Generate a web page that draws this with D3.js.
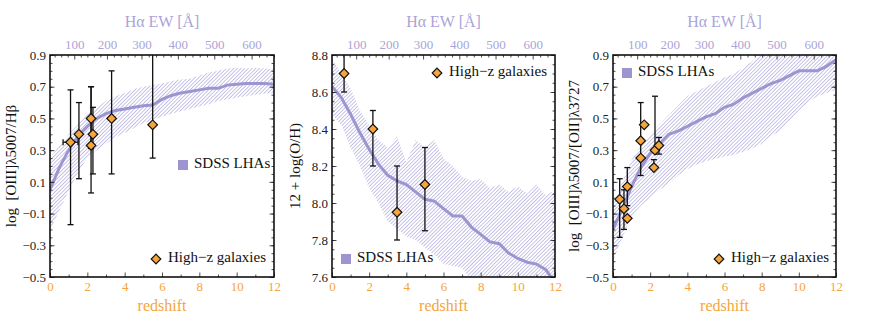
<!DOCTYPE html>
<html>
<head>
<meta charset="utf-8">
<script src="https://cdn.jsdelivr.net/npm/d3@7"></script>
<style>
  body { margin: 0; background: #fff; }
  text { font-family: "Liberation Serif", "DejaVu Serif", serif; }
</style>
</head>
<body>
<div id="graph"></div>
<script>
// ---- data ----
var zGrid = [0, 0.5, 1, 1.5, 2, 2.5, 3, 3.5, 4, 4.5, 5, 5.5, 6, 6.5, 7, 7.5, 8, 8.5, 9, 9.5, 10, 10.5, 11, 11.5, 12];

// SDSS LHAs: median and band, [OIII]/Hb
var o3hbMed  = [0.05, 0.19, 0.30, 0.39, 0.45, 0.50, 0.53, 0.55, 0.56, 0.57, 0.58, 0.585, 0.62, 0.645, 0.66, 0.67, 0.68, 0.69, 0.69, 0.71, 0.715, 0.72, 0.72, 0.72, 0.715];
var o3hbLow  = [-0.21, -0.08, 0.04, 0.16, 0.25, 0.30, 0.34, 0.38, 0.41, 0.44, 0.47, 0.49, 0.51, 0.53, 0.545, 0.56, 0.575, 0.59, 0.61, 0.62, 0.63, 0.64, 0.65, 0.655, 0.66];
var o3hbHigh = [0.25, 0.33, 0.40, 0.46, 0.53, 0.57, 0.61, 0.64, 0.66, 0.685, 0.70, 0.71, 0.72, 0.735, 0.745, 0.75, 0.77, 0.79, 0.80, 0.815, 0.82, 0.815, 0.82, 0.815, 0.81];

// 12+log(O/H)
var ohMed  = [8.63, 8.57, 8.48, 8.38, 8.29, 8.21, 8.15, 8.12, 8.10, 8.06, 8.02, 8.01, 7.97, 7.93, 7.93, 7.87, 7.83, 7.79, 7.78, 7.73, 7.70, 7.68, 7.67, 7.64, 7.57];
var ohLow  = [8.48, 8.42, 8.30, 8.20, 8.08, 8.00, 7.90, 7.86, 7.82, 7.80, 7.76, 7.72, 7.67, 7.66, 7.65, 7.58, 7.52, 7.50, 7.48, 7.45, 7.44, 7.42, 7.40, 7.38, 7.36];
var ohHigh = [8.78, 8.70, 8.62, 8.50, 8.42, 8.34, 8.30, 8.36, 8.22, 8.34, 8.30, 8.34, 8.24, 8.20, 8.14, 8.12, 8.13, 8.08, 8.10, 8.06, 8.09, 8.05, 8.10, 8.04, 8.07];

// [OIII]/[OII]
var o32Med  = [-0.20, -0.07, 0.07, 0.19, 0.28, 0.34, 0.40, 0.42, 0.45, 0.48, 0.51, 0.53, 0.57, 0.59, 0.63, 0.66, 0.69, 0.72, 0.74, 0.77, 0.80, 0.80, 0.80, 0.83, 0.87];
var o32Low  = [-0.40, -0.25, -0.12, -0.05, 0.00, 0.05, 0.09, 0.14, 0.18, 0.21, 0.23, 0.245, 0.26, 0.27, 0.29, 0.31, 0.34, 0.39, 0.42, 0.48, 0.55, 0.60, 0.64, 0.66, 0.68];
var o32High = [-0.05, 0.10, 0.24, 0.33, 0.40, 0.46, 0.52, 0.58, 0.64, 0.67, 0.70, 0.73, 0.76, 0.78, 0.82, 0.86, 0.90, 0.92, 0.94, 0.95, 0.96, 0.96, 0.97, 0.97, 0.98];

// High-z galaxies: [z, value, lower, upper, zErr]
var o3hbGal = [
  [1.1, 0.35, -0.17, 0.68, 0.4],
  [1.55, 0.40, 0.12, 0.60, 0],
  [2.2, 0.50, 0.31, 0.70, 0],
  [2.3, 0.40, 0.15, 0.57, 0],
  [2.2, 0.33, 0.03, 0.70, 0],
  [3.3, 0.50, 0.15, 0.80, 0],
  [5.5, 0.46, 0.25, 1.20, 0]
];
var ohGal = [
  [0.65, 8.70, 8.60, 9.00, 0],
  [2.2, 8.40, 8.20, 8.50, 0],
  [3.5, 7.95, 7.80, 8.20, 0],
  [5.0, 8.10, 7.85, 8.30, 0]
];
var o32Gal = [
  [0.36, -0.01, -0.25, 0.12, 0],
  [0.59, -0.07, -0.20, 0.05, 0],
  [0.77, -0.13, -0.13, -0.13, 0],
  [0.77, 0.07, -0.05, 0.19, 0],
  [1.49, 0.36, 0.14, 0.60, 0],
  [1.49, 0.25, 0.25, 0.25, 0],
  [1.68, 0.46, 0.46, 0.46, 0],
  [2.26, 0.30, 0.30, 0.64, 0],
  [2.47, 0.33, 0.275, 0.38, 0],
  [2.2, 0.19, 0.19, 0.24, 0]
];

// top axis: Halpha EW tick labels and the redshift they sit at
var ewTicks = [100, 200, 300, 400, 500, 600];
var ewAtZ   = [1.3, 3.05, 4.9, 6.85, 8.8, 10.8];

var panels = [
  { left: 50, right: 274, yDom: [-0.5, 0.9], yTicks: d3.range(-0.5, 0.91, 0.2), title: "log\u00a0\u00a0[OIII]λ5007/Hβ", titleX: 13,
    med: o3hbMed, lo: o3hbLow, hi: o3hbHigh, gal: o3hbGal,
    lhaLeg: [178, 165], galLeg: [156, 259] },
  { left: 332, right: 555, yDom: [7.6, 8.8], yTicks: d3.range(7.6, 8.81, 0.2), title: "12 + log(O/H)", titleX: 297,
    med: ohMed, lo: ohLow, hi: ohHigh, gal: ohGal,
    lhaLeg: [341, 259], galLeg: [437, 73] },
  { left: 613, right: 836, yDom: [-0.5, 0.9], yTicks: d3.range(-0.5, 0.91, 0.2), title: "log\u00a0\u00a0[OIII]λ5007/[OII]λ3727", titleX: 576,
    med: o32Med, lo: o32Low, hi: o32High, gal: o32Gal,
    lhaLeg: [622, 73], galLeg: [719, 259] }
];

// ---- drawing ----
var plotTop = 55, plotBottom = 277;
var orange = "#f5a53c", purple = "#9c95cf", lilac = "#aaa4d8";

var svg = d3.select("#graph").append("svg")
  .attr("width", 872).attr("height", 327);

var defs = svg.append("defs");
defs.append("pattern")
    .attr("id", "hatch")
    .attr("patternUnits", "userSpaceOnUse")
    .attr("width", 2.6).attr("height", 3)
    .attr("patternTransform", "rotate(45)")
  .append("line")
    .attr("x1", 0).attr("y1", 0).attr("x2", 0).attr("y2", 3)
    .attr("stroke", "#9993d2").attr("stroke-width", 1.1);

var diamond = d3.symbol().type(d3.symbolSquare).size(46);

panels.forEach(function(p, i) {
  var x = d3.scaleLinear().domain([0, 12]).range([p.left, p.right]);
  var y = d3.scaleLinear().domain(p.yDom).range([plotBottom, plotTop]);
  var ew = d3.scaleLinear().domain(ewTicks).range(ewAtZ.map(function(z) { return x(z); }));
  var g = svg.append("g");

  defs.append("clipPath").attr("id", "clip" + i)
    .append("rect").attr("x", p.left).attr("y", plotTop)
    .attr("width", p.right - p.left).attr("height", plotBottom - plotTop);
  var plot = g.append("g").attr("clip-path", "url(#clip" + i + ")");

  // band
  var band = d3.area()
    .x(function(d, k) { return x(zGrid[k]); })
    .y0(function(d, k) { return y(p.lo[k]); })
    .y1(function(d, k) { return y(p.hi[k]); });
  plot.append("path").attr("d", band(zGrid)).attr("fill", "url(#hatch)");

  // median line
  var line = d3.line()
    .x(function(d, k) { return x(zGrid[k]); })
    .y(function(d) { return y(d); });
  plot.append("path").attr("d", line(p.med))
    .attr("fill", "none").attr("stroke", purple).attr("stroke-width", 3);

  // error bars
  p.gal.forEach(function(d) {
    var cx = x(d[0]);
    if (d[2] !== d[3]) {
      plot.append("line").attr("x1", cx).attr("x2", cx).attr("y1", y(d[2])).attr("y2", y(d[3]))
        .attr("stroke", "#111").attr("stroke-width", 1.3);
      [d[2], d[3]].forEach(function(v) {
        plot.append("line").attr("x1", cx - 3).attr("x2", cx + 3).attr("y1", y(v)).attr("y2", y(v))
          .attr("stroke", "#111").attr("stroke-width", 1.3);
      });
    }
    if (d[4] > 0) {
      var cy = y(d[1]);
      plot.append("line").attr("x1", x(d[0] - d[4])).attr("x2", x(d[0] + d[4])).attr("y1", cy).attr("y2", cy)
        .attr("stroke", "#111").attr("stroke-width", 1.3);
      [d[0] - d[4], d[0] + d[4]].forEach(function(v) {
        plot.append("line").attr("x1", x(v)).attr("x2", x(v)).attr("y1", cy - 3).attr("y2", cy + 3)
          .attr("stroke", "#111").attr("stroke-width", 1.3);
      });
    }
  });
  // diamonds
  g.selectAll(".pt").data(p.gal).enter().append("path")
    .attr("d", diamond)
    .attr("transform", function(d) { return "translate(" + x(d[0]) + "," + y(d[1]) + ") rotate(45)"; })
    .attr("fill", orange).attr("stroke", "#111").attr("stroke-width", 1.2);

  // axes (ticks inward)
  function style(sel, col) {
    sel.select(".domain").remove();
    sel.selectAll("line").attr("stroke", "#222").attr("stroke-width", 0.8);
    sel.selectAll("text").style("font-size", "13px").style("font-family", "Liberation Serif, serif").attr("fill", col);
  }
  var minorY = d3.range(p.yDom[0], p.yDom[1] + 0.001, 0.05);
  g.append("g").attr("transform", "translate(" + p.left + ",0)")
    .call(d3.axisLeft(y).tickValues(minorY).tickSize(-2.5).tickFormat(""))
    .call(style, "#222");
  g.append("g").attr("transform", "translate(" + p.left + ",0)")
    .call(d3.axisLeft(y).tickValues(p.yTicks).tickSize(-4.5).tickPadding(4).tickFormat(d3.format(".1f")))
    .call(style, "#222");
  g.append("g").attr("transform", "translate(" + p.right + ",0)")
    .call(d3.axisRight(y).tickValues(minorY).tickSize(-2.5).tickFormat(""))
    .call(style, "#222");
  g.append("g").attr("transform", "translate(" + p.right + ",0)")
    .call(d3.axisRight(y).tickValues(p.yTicks).tickSize(-4.5).tickFormat(""))
    .call(style, "#222");

  g.append("g").attr("transform", "translate(0," + plotBottom + ")")
    .call(d3.axisBottom(x).tickValues(d3.range(1, 12, 2)).tickSize(-2.5).tickFormat(""))
    .call(style, orange);
  g.append("g").attr("transform", "translate(0," + plotBottom + ")")
    .call(d3.axisBottom(x).tickValues(d3.range(0, 13, 2)).tickSize(-4.5).tickPadding(5).tickFormat(d3.format("d")))
    .call(style, orange);

  var ewMinor = d3.range(40, 661, 20).filter(function(v) { return v % 100 !== 0 && ew(v) >= p.left && ew(v) <= p.right; });
  g.append("g").attr("transform", "translate(0," + plotTop + ")")
    .call(d3.axisTop(ew).tickValues(ewMinor).tickSize(-2.5).tickFormat(""))
    .call(style, lilac);
  g.append("g").attr("transform", "translate(0," + plotTop + ")")
    .call(d3.axisTop(ew).tickValues(ewTicks).tickSize(-4.5).tickPadding(6).tickFormat(d3.format("d")))
    .call(style, lilac);

  // frame
  g.append("rect").attr("x", p.left).attr("y", plotTop)
    .attr("width", p.right - p.left).attr("height", plotBottom - plotTop)
    .attr("fill", "none").attr("stroke", "#111").attr("stroke-width", 1.6);

  // titles
  var cx = (p.left + p.right) / 2;
  g.append("text").attr("x", cx).attr("y", 311).attr("text-anchor", "middle")
    .style("font-size", "16px").attr("fill", orange).text("redshift");
  g.append("text").attr("x", cx).attr("y", 27).attr("text-anchor", "middle")
    .style("font-size", "16px").attr("fill", lilac).text("Hα EW [Å]");
  g.append("text").attr("text-anchor", "middle").attr("dominant-baseline", "middle")
    .attr("transform", "translate(" + p.titleX + "," + (plotTop + plotBottom) / 2 + ") rotate(-90)")
    .style("font-size", "15px").attr("fill", "#111").text(p.title);

  // legends
  var L = p.lhaLeg;
  g.append("rect").attr("x", L[0]).attr("y", L[1] - 5).attr("width", 10).attr("height", 10).attr("fill", purple);
  g.append("text").attr("x", L[0] + 16).attr("y", L[1]).attr("dominant-baseline", "middle")
    .style("font-size", "15px").attr("fill", "#111").text("SDSS LHAs");
  var G = p.galLeg;
  g.append("path").attr("d", diamond)
    .attr("transform", "translate(" + G[0] + "," + G[1] + ") rotate(45)")
    .attr("fill", orange).attr("stroke", "#111").attr("stroke-width", 1.2);
  g.append("text").attr("x", G[0] + 12).attr("y", G[1]).attr("dominant-baseline", "middle")
    .style("font-size", "15px").attr("fill", "#111").text("High−z galaxies");
});
</script>
</body>
</html>
